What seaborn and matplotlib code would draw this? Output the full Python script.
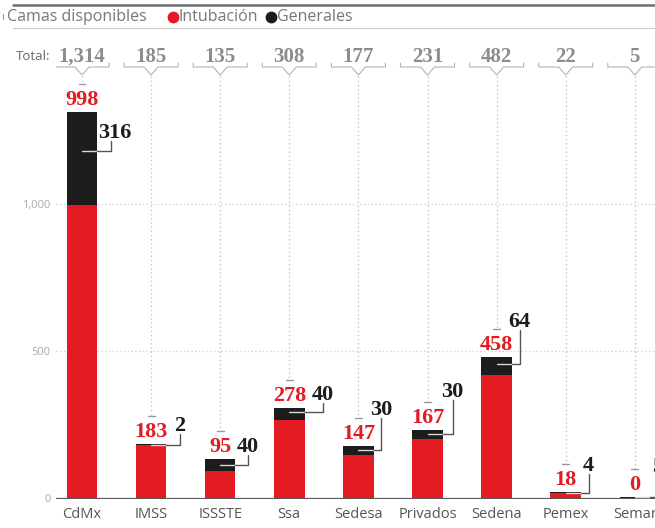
import matplotlib
matplotlib.use("Agg")
import matplotlib.pyplot as plt
import seaborn as sns
import pandas as pd
from matplotlib.lines import Line2D

# ---------------- data ----------------
categorias = ["CdMx", "IMSS", "ISSSTE", "Ssa", "Sedesa", "Privados", "Sedena", "Pemex", "Semar"]
total = [1314, 185, 135, 308, 177, 231, 482, 22, 5]
intubacion = [998, 183, 95, 278, 147, 167, 458, 18, 0]          # printed labels
generales = [316, 2, 40, 40, 30, 30, 64, 4, 5]
intubacion_barra = [998, 183, 95, 268, 147, 201, 418, 18, 0]    # red segment heights as drawn
yticks = [0, 500, 1000]
ytick_labels = ["0", "500", "1,000"]

# ---------------- layout / style ----------------
W, H = 655, 528
RED = "#e31b23"
BLACK = "#1c1c1c"
SERIF = ["Liberation Serif", "DejaVu Serif"]

sns.set_theme(style="white")
plt.rcParams['font.family'] = ['Open Sans', 'DejaVu Sans']

fig = plt.figure(figsize=(W / 100, H / 100), dpi=100)
x0_px, step_px = 82, 69.1
base_px, scale = 498.5, 0.2945
xlo, xhi = -0.37, 8.5
yhi = 1680
left_px = x0_px + xlo * step_px
right_px = x0_px + xhi * step_px
top_px = base_px - yhi * scale
ax = fig.add_axes([left_px / W, (H - base_px) / H, (right_px - left_px) / W, (base_px - top_px) / H])


def py(ypx):
    return (base_px - ypx) / scale


df = pd.DataFrame({
    "cat": categorias,
    "apilado": [r + g for r, g in zip(intubacion_barra, generales)],
    "intub": intubacion_barra,
})
sns.barplot(data=df, x="cat", y="apilado", color=BLACK, width=0.44, saturation=1, ax=ax,
            zorder=2, linewidth=0, edgecolor="none")
sns.barplot(data=df, x="cat", y="intub", color=RED, width=0.44, saturation=1, ax=ax,
            zorder=2, linewidth=0, edgecolor="none")

ax.set_xlim(xlo, xhi)
ax.set_ylim(0, yhi)
ax.set_xlabel("")
ax.set_ylabel("")
for s in ax.spines.values():
    s.set_visible(False)
ax.set_yticks(yticks)
ax.set_yticklabels(ytick_labels, fontsize=8, color="#a8a8a8")
ax.tick_params(axis='y', length=0, pad=4)
ax.tick_params(axis='x', length=0, pad=6, labelsize=10.5, labelcolor="#555555")
ax.yaxis.grid(True, linestyle=(0, (1, 2)), color="#cfcfcf", lw=0.9)
ax.xaxis.grid(False)
ax.set_axisbelow(True)
ax.axhline(0, color="#5a5a5a", lw=1.6, zorder=3)

# per-bar annotation offsets (pixels)
h_off = [39, 1, 6, 4, 4, 4, 7, 1, 0]        # callout horizontal below bar top
c_off = [29, 29, 28, 34, 23, 25, 23, 23, 23]  # callout vertical x from centre
l_off = [21, -18, -12, -13, -36, -38, -35, -26, -30]  # black label centre from bar top
lx_off = [4, 0, 0, 0, 0, 0, 0, 0, 0]

for i, cat in enumerate(categorias):
    c = i
    top = base_px - (intubacion_barra[i] + generales[i]) * scale
    # red label
    ax.text(c, py(top - 12), f"{intubacion[i]:,}", ha="center", va="center", color=RED,
            fontsize=16, family=SERIF, fontweight="bold", zorder=5)
    # tick & dotted vertical
    tick_y = top - 28
    ax.plot([c - 0.05, c + 0.05], [py(tick_y)] * 2, color="#9a9a9a", lw=1, zorder=4)
    ax.plot([c, c], [py(76), py(tick_y)], color="#c4c4c4", lw=1, linestyle=(0, (1, 2)), zorder=1)
    # callout
    hy = top + h_off[i]
    cx = c + c_off[i] / step_px
    ly = top + l_off[i]
    ax.plot([c, c + 0.22], [py(hy)] * 2, color="#d8d8d8", lw=1, zorder=4)
    ax.plot([c + 0.22, cx, cx], [py(hy), py(hy), py(ly + 8)], color="#555555", lw=1, zorder=4)
    ax.text(cx + lx_off[i] / step_px, py(ly), f"{generales[i]:,}", ha="center", va="center",
            color=BLACK, fontsize=16, family=SERIF, fontweight="bold", zorder=5)
    # header total with bracket
    ax.text(c, py(57), f"{total[i]:,}", ha="center", va="center", color="#8c8c8c",
            fontsize=15, family=SERIF, fontweight="bold")
    bw, vw = 27 / step_px, 7 / step_px
    ax.plot([c - bw, c - bw, c - vw, c, c + vw, c + bw, c + bw],
            [py(63), py(67), py(67), py(75), py(67), py(67), py(63)],
            color="#b4b4b4", lw=0.8, zorder=4)

# "Total:" label
fig.text(16 / W, (H - 57) / H, "Total:", ha="left", va="center", fontsize=9.5, color="#666666")

# header rules
fig.add_artist(Line2D([13 / W, 1], [(H - 5) / H] * 2, transform=fig.transFigure, color="#6e6e6e", lw=1.8))
fig.add_artist(Line2D([13 / W, 1], [(H - 28) / H] * 2, transform=fig.transFigure, color="#cccccc", lw=0.8))
fig.add_artist(Line2D([3 / W, 3 / W], [(H - 14) / H, (H - 19) / H], transform=fig.transFigure, color="#999999", lw=0.8))

# legend
fig.text(7 / W, (H - 17) / H, "Camas disponibles", ha="left", va="center", fontsize=11.5, color="#777777")
fig.add_artist(Line2D([173 / W], [(H - 17) / H], transform=fig.transFigure, marker="o", markersize=7.5,
                      color=RED, linestyle="none"))
fig.text(179 / W, (H - 17) / H, "Intubación", ha="left", va="center", fontsize=11.5, color="#777777")
fig.add_artist(Line2D([271 / W], [(H - 17) / H], transform=fig.transFigure, marker="o", markersize=7.5,
                      color=BLACK, linestyle="none"))
fig.text(277 / W, (H - 17) / H, "Generales", ha="left", va="center", fontsize=11.5, color="#777777")

fig.savefig("out.png", dpi=100)
